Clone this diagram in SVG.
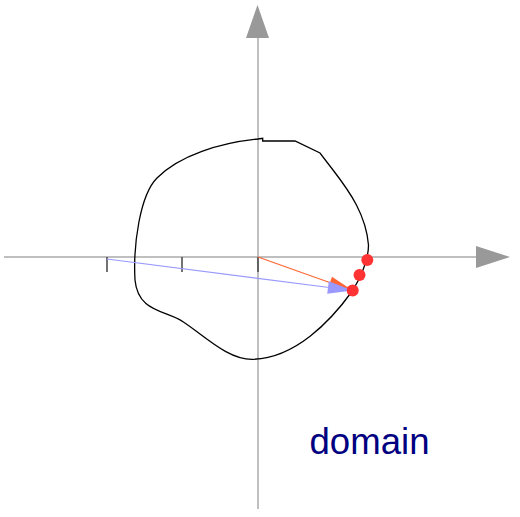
<svg xmlns="http://www.w3.org/2000/svg" width="520" height="517" viewBox="0 0 520 517">
<style>
.axis{stroke:#aaaaaa;stroke-width:1.5;fill:none}
.head{fill:#999999}
.tick{stroke:#444444;stroke-width:1.5}
.dot{fill:#ff3333}
</style>
<rect width="520" height="517" fill="#ffffff"/>
<g id="axes">
<line class="axis" x1="4" y1="257" x2="478" y2="257"/>
<polygon class="head" points="476,246 510,257 476,268"/>
<line class="axis" x1="258" y1="36" x2="258" y2="509"/>
<polygon class="head" points="246,38 257.5,5 269,38"/>
<line class="tick" x1="107" y1="257" x2="107" y2="272"/>
<line class="tick" x1="182" y1="257" x2="182" y2="272"/>
<line class="tick" x1="258" y1="257" x2="258" y2="272"/>
</g>
<g id="domain-curve">
<path d="M 262.7 141 L 295 141 L 320 153 L 333 170 C 350 192, 366 215, 368.5 245 C 368.5 258, 362 275, 352.7 290.5 C 330 322, 295 358, 253 359.3 C 228 360, 205 336, 183 321.7 C 165 310, 138 312, 135 280 C 133 245, 140 195, 157 178 C 180 155, 220 143, 258 139 L 262.7 138.3 Z" fill="none" stroke="#000000" stroke-width="1.3"/>
</g>
<g id="connectors">
<line x1="258" y1="257" x2="331" y2="283" stroke="#ff6633" stroke-width="1.2"/>
<polygon points="352.7,290.5 328,288.2 332,276.8" fill="#ff6633"/>
<line x1="107" y1="259" x2="329" y2="287.5" stroke="#9999ff" stroke-width="1.2"/>
<polygon points="352.7,290.5 327.2,293.8 328.8,281.2" fill="#9999ff"/>
</g>
<g id="points">
<circle class="dot" cx="367.3" cy="260" r="6"/>
<circle class="dot" cx="359.5" cy="275" r="6"/>
<circle class="dot" cx="352.7" cy="290.5" r="6"/>
</g>
<g id="label">
<text x="309.5" y="454" font-family="'Liberation Sans', Arial, sans-serif" font-size="36.6" fill="#000080">domain</text>
</g>
</svg>
